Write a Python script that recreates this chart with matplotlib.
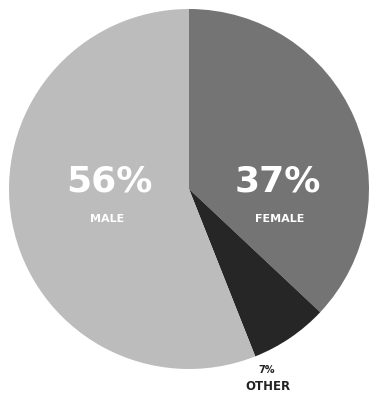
import matplotlib
matplotlib.use("Agg")
import matplotlib.pyplot as plt

# gender split
labels = ["FEMALE", "OTHER", "MALE"]
shares = [37, 7, 56]
colors = ["#747474", "#262626", "#bcbcbc"]

plt.rcParams["font.family"] = ["DejaVu Sans"]

W, H = 371, 395
cx, cy, r = 189, 189, 180  # pie centre and radius in pixels

fig = plt.figure(figsize=(W / 100, H / 100), dpi=100)
ax = fig.add_axes([0, 0, 1, 1])
ax.pie(shares, colors=colors, startangle=90, counterclock=False,
       wedgeprops=dict(linewidth=0))
ax.set_aspect("auto")
ax.set_xlim(-cx / r, (W - cx) / r)
ax.set_ylim(-(H - cy) / r, cy / r)
ax.axis("off")


def px(x, y):
    return (x - cx) / r, (cy - y) / r


big = dict(color="white", fontsize=26, fontweight="bold", ha="center", va="center")
small = dict(color="white", fontsize=8, fontweight="bold", ha="center", va="center")

# big percentage labels inside the slices
ax.text(*px(109, 182), f"{shares[2]}%", **big)
ax.text(*px(107, 219), labels[2], **small)
ax.text(*px(278, 182), f"{shares[0]}%", **big)
ax.text(*px(280, 219), labels[0], **small)

# small slice labelled outside
ax.text(*px(267, 370), f"{shares[1]}%", color="#222222", fontsize=7,
        fontweight="bold", ha="center", va="center")
ax.text(*px(268, 387), labels[1], color="#222222", fontsize=8.5,
        fontweight="bold", ha="center", va="center")

fig.savefig("out.png", dpi=100, facecolor="white")
